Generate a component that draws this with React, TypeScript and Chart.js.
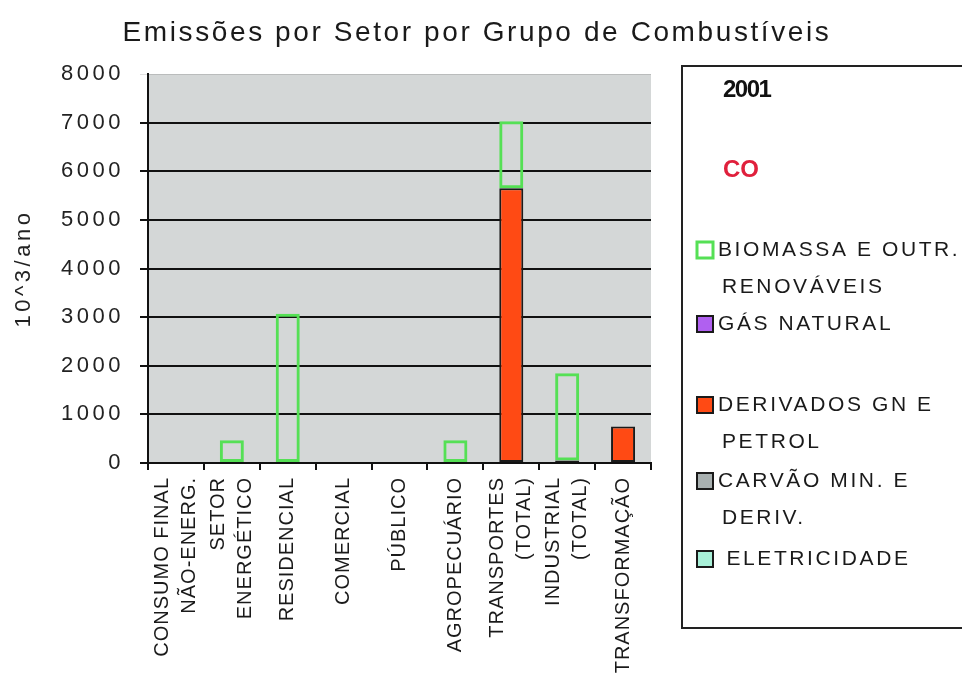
import React, { useEffect, useRef } from "react";
import { Chart, registerables } from "chart.js";

Chart.register(...registerables);

const chartTitle = "Emissões por Setor por Grupo de Combustíveis";
const yAxisTitle = "10^3/ano";
const legendYear = "2001";
const legendGas = "CO";

const categories: (string | string[])[] = [
  ["CONSUMO FINAL", "NÃO-ENERG."],
  ["SETOR", "ENERGÉTICO"],
  "RESIDENCIAL",
  "COMERCIAL",
  "PÚBLICO",
  "AGROPECUÁRIO",
  ["TRANSPORTES", "(TOTAL)"],
  ["INDUSTRIAL", "(TOTAL)"],
  "TRANSFORMAÇÃO",
];

const derivados = [null, null, null, null, null, null, 5650, null, 750];
const carvao = [null, null, null, null, null, null, null, 50, null];
const gasNatural = [null, null, null, null, null, null, null, null, null];
const eletricidade = [null, null, null, null, null, null, null, null, null];
const biomassa = [null, 470, 3070, null, null, 470, 1380, 1795, null];

const yTicks = [0, 1000, 2000, 3000, 4000, 5000, 6000, 7000, 8000];

const legendBiomassa = ["BIOMASSA E OUTR.", "RENOVÁVEIS"];
const legendGasNatural = ["GÁS NATURAL"];
const legendDerivados = ["DERIVADOS GN E", "PETROL"];
const legendCarvao = ["CARVÃO MIN. E", "DERIV."];
const legendEletricidade = [" ELETRICIDADE"];

const FONT = "'Liberation Sans', Arial, sans-serif";

export default function App() {
  const ref = useRef<HTMLCanvasElement | null>(null);

  useEffect(() => {
    if (!ref.current) return;

    const bgPlugin = {
      id: "bg",
      beforeDraw(chart: any) {
        const { ctx, chartArea } = chart;
        ctx.save();
        ctx.fillStyle = "#ffffff";
        ctx.fillRect(0, 0, chart.width, chart.height);
        ctx.fillStyle = "#d4d7d7";
        ctx.fillRect(chartArea.left, chartArea.top, chartArea.right - chartArea.left, chartArea.bottom - chartArea.top);
        ctx.restore();
        (ctx as any).letterSpacing = "3.5px";
      },
    };

    const textPlugin = {
      id: "texts",
      afterDraw(chart: any) {
        const { ctx } = chart;
        const xs = chart.scales.x;
        ctx.save();
        // title
        (ctx as any).letterSpacing = "2.6px";
        ctx.font = `28px ${FONT}`;
        ctx.fillStyle = "#1a1a1a";
        ctx.textAlign = "center";
        ctx.textBaseline = "middle";
        ctx.fillText(chartTitle, 477, 33);

        // x labels
        (ctx as any).letterSpacing = "1px";
        ctx.font = `20px ${FONT}`;
        ctx.fillStyle = "#1a1a1a";
        const lineSp = 27;
        const baseY = xs.bottom - xs.height + 14;
        categories.forEach((lab, i) => {
          const lines = Array.isArray(lab) ? lab : [lab];
          const px = xs.getPixelForTick(i);
          lines.forEach((ln, j) => {
            const off = (j - (lines.length - 1) / 2) * lineSp;
            ctx.save();
            ctx.translate(px + off, baseY);
            ctx.rotate(-Math.PI / 2);
            ctx.textAlign = "right";
            ctx.textBaseline = "middle";
            ctx.fillText(ln, 0, 0);
            ctx.restore();
          });
        });

        // legend frame
        (ctx as any).letterSpacing = "0px";
        ctx.strokeStyle = "#222";
        ctx.lineWidth = 2;
        ctx.strokeRect(682, 66, 320, 562);

        ctx.textAlign = "left";
        ctx.textBaseline = "middle";
        ctx.font = `bold 24px ${FONT}`;
        (ctx as any).letterSpacing = "-1.5px";
        ctx.fillStyle = "#111";
        ctx.fillText(legendYear, 723, 90);
        (ctx as any).letterSpacing = "0px";
        ctx.fillStyle = "#e0203c";
        ctx.font = `bold 24px ${FONT}`;
        ctx.fillText(legendGas, 723, 170);

        const ds = chart.data.datasets;
        const items = [
          { d: ds[4], lines: legendBiomassa, y: 250 },
          { d: ds[2], lines: legendGasNatural, y: 324 },
          { d: ds[0], lines: legendDerivados, y: 405 },
          { d: ds[1], lines: legendCarvao, y: 481 },
          { d: ds[3], lines: legendEletricidade, y: 559 },
        ];
        ctx.font = `21px ${FONT}`;
        (ctx as any).letterSpacing = "2.6px";
        items.forEach((it) => {
          const isOutline = it.d.backgroundColor === "rgba(0,0,0,0)";
          ctx.fillStyle = isOutline ? "#ffffff" : it.d.legendFill;
          ctx.fillRect(697, it.y - 8, 16, 16);
          ctx.strokeStyle = it.d.borderColor;
          ctx.lineWidth = isOutline ? 3 : 2;
          ctx.strokeRect(697, it.y - 8, 16, 16);
          ctx.fillStyle = "#1a1a1a";
          it.lines.forEach((ln: string, j: number) => {
            ctx.fillText(ln, j === 0 ? 718 : 722, it.y + j * 37);
          });
        });
        ctx.restore();
      },
    };

    const chart = new Chart(ref.current, {
      type: "bar",
      data: {
        labels: categories as any,
        datasets: [
          { label: "DERIVADOS GN E PETROL", data: derivados as any, backgroundColor: "#ff4a14", legendFill: "#ff4a14", borderColor: "#1a1a1a", borderWidth: 2 } as any,
          { label: "CARVÃO MIN. E DERIV.", data: carvao as any, backgroundColor: "#a8b0b0", legendFill: "#a8b0b0", borderColor: "#1a1a1a", borderWidth: 2 } as any,
          { label: "GÁS NATURAL", data: gasNatural as any, backgroundColor: "#b060f0", legendFill: "#b060f0", borderColor: "#1a1a1a", borderWidth: 2 } as any,
          { label: "ELETRICIDADE", data: eletricidade as any, backgroundColor: "#a8f0d8", legendFill: "#a8f0d8", borderColor: "#1a1a1a", borderWidth: 2 } as any,
          { label: "BIOMASSA E OUTR. RENOVÁVEIS", data: biomassa as any, backgroundColor: "rgba(0,0,0,0)", legendFill: "#ffffff", borderColor: "#55e055", borderWidth: 3 } as any,
        ],
      },
      options: {
        animation: false,
        responsive: true,
        maintainAspectRatio: false,
        layout: { padding: { left: 0, right: 311, top: 74, bottom: 0 } },
        plugins: { legend: { display: false }, title: { display: false }, tooltip: { enabled: false } },
        datasets: { bar: { categoryPercentage: 1, barPercentage: 0.43, borderSkipped: false } as any },
        scales: {
          x: {
            stacked: true,
            grid: { drawOnChartArea: false, drawTicks: true, tickLength: 7, color: "#111", lineWidth: 2, offset: true },
            border: { color: "#111", width: 2 },
            ticks: { color: "rgba(0,0,0,0)", autoSkip: false, maxRotation: 90, minRotation: 90 },
            afterFit: (s: any) => { s.height = 219; },
          },
          y: {
            stacked: true,
            min: 0,
            max: 8000,
            afterBuildTicks: (s: any) => { s.ticks = yTicks.map((v) => ({ value: v })); },
            grid: {
              color: (c: any) => (c.tick && c.tick.value === 8000 ? "rgba(0,0,0,0.12)" : "#111"),
              lineWidth: (c: any) => (c.tick && c.tick.value === 8000 ? 1 : 2),
              tickLength: 8,
            },
            border: { color: "#111", width: 2 },
            ticks: { font: { family: FONT, size: 22 }, color: "#222", padding: 16, callback: (v: any) => String(v) },
            title: { display: true, text: yAxisTitle, font: { family: FONT, size: 22 }, color: "#222", padding: { top: 11, bottom: 0 } },
            afterFit: (s: any) => { s.width = 148; },
          },
        },
      },
      plugins: [bgPlugin, textPlugin],
    });

    return () => chart.destroy();
  }, []);

  return (
    <div style={{ position: "fixed", left: 0, top: 0, width: 962, height: 682, background: "#fff" }}>
      <canvas ref={ref} />
    </div>
  );
}
